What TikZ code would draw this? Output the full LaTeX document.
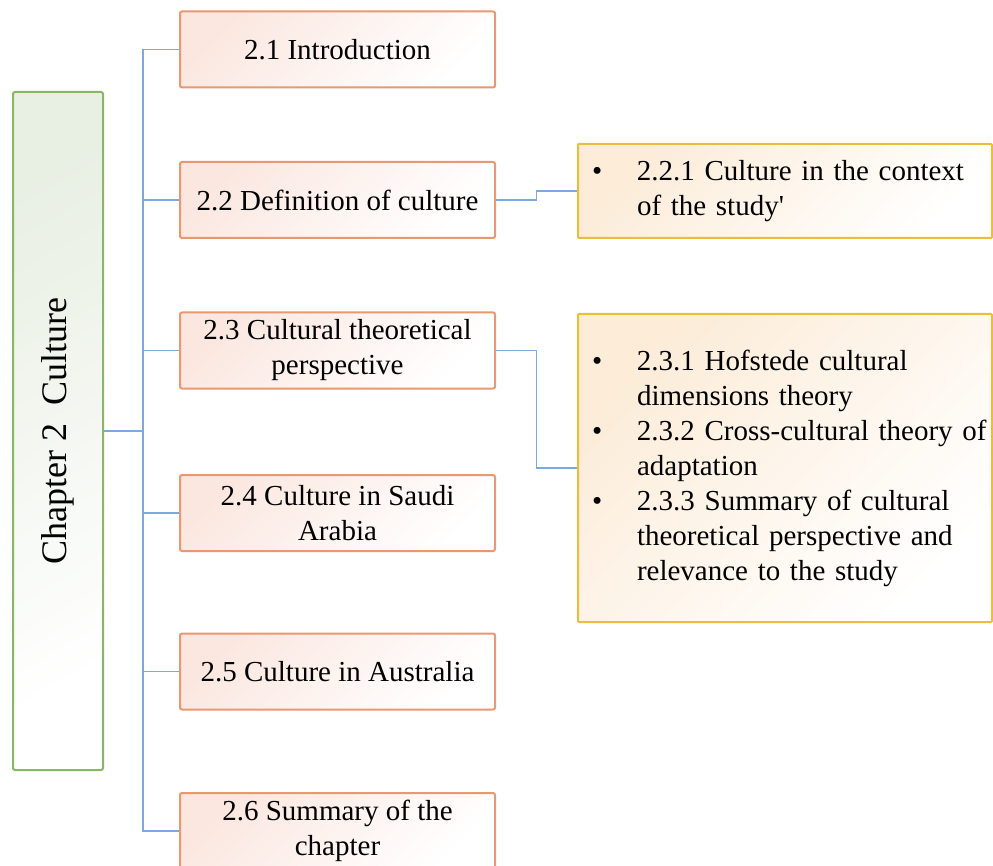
\documentclass[tikz,border=0pt]{standalone}
\usepackage{fontspec}
\usepackage{graphicx}
\setmainfont{Liberation Serif}[Ligatures=TeXOff]
\usetikzlibrary{calc}

\definecolor{secline}{RGB}{233,152,112}
\definecolor{secfill}{RGB}{251,231,224}
\definecolor{chline}{RGB}{138,184,98}
\definecolor{chfill}{RGB}{232,239,227}
\definecolor{subline}{RGB}{236,188,62}
\definecolor{subfill}{RGB}{252,236,216}
\definecolor{connblue}{RGB}{122,170,222}

\newcommand\boxfont{\fontsize{29}{35}\selectfont}
\newcommand\chapfont{\fontsize{36}{42}\selectfont}

\begin{document}
\begin{tikzpicture}[x=1pt,y=-1pt,
  secbox/.style={draw=secline, line width=2pt, rounded corners=2pt,
    top color=secfill, bottom color=white, shading angle=45,
    minimum width=315pt, minimum height=76pt, inner sep=0pt,
    align=center, font=\boxfont},
  chapbox/.style={draw=chline, line width=2pt, rounded corners=2pt,
    top color=chfill, bottom color=white, shading angle=30,
    minimum width=90pt, minimum height=678pt, inner sep=0pt, font=\chapfont},
  subbox/.style={draw=subline, line width=2pt, rounded corners=1pt,
    top color=subfill, bottom color=white, shading angle=45,
    minimum width=414pt, inner xsep=14pt, inner ysep=0pt,
    text width=386pt, font=\boxfont},
  conn/.style={draw=connblue, line width=1.8pt}]

\useasboundingbox (0,0) rectangle (993,866);
\clip (0,0) rectangle (993,866);

% chapter box
\node[chapbox] (ch) at (58,431) {\rotatebox{90}{Chapter 2\ \ Culture}};

% trunk position
\coordinate (tk) at (143,431);

% section boxes
\node[secbox] (s21) at (337.5,49.5) {2.1 Introduction};
\node[secbox] (s22) at (337.5,200) {2.2 Definition of culture};
\node[secbox] (s23) at (337.5,350.5) {2.3 Cultural theoretical\\perspective};
\node[secbox] (s24) at (337.5,513) {2.4 Culture in Saudi\\Arabia};
\node[secbox] (s25) at (337.5,671.5) {2.5 Culture in Australia};
\node[secbox] (s26) at (337.5,831) {2.6 Summary of the\\chapter};

% subsection boxes
\node[subbox, minimum height=94pt] (b22) at (785,191) {%
  \begin{tabular}{@{}p{45pt}@{}l@{}}
  \textbullet & 2.2.1 Culture in the context\\
              & of the study'
  \end{tabular}};
\node[subbox, minimum height=308pt] (b23) at (785,468) {%
  \begin{tabular}{@{}p{45pt}@{}l@{}}
  \textbullet & 2.3.1 Hofstede cultural\\
              & dimensions theory\\
  \textbullet & 2.3.2 Cross-cultural theory of\\
              & adaptation\\
  \textbullet & 2.3.3 Summary of cultural\\
              & theoretical perspective and\\
              & relevance to the study
  \end{tabular}};

% tree connectors
\draw[conn] (s21.west) -- (s21.west -| tk) -- (s26.west -| tk) -- (s26.west);
\draw[conn] (ch.east) -- (tk);
\foreach \s in {s22,s23,s24,s25}
  \draw[conn] (\s.west) -- (\s.west -| tk);

% elbow connectors to subsection boxes
\draw[conn] (s22.east) -| ($(s22.east)!0.5!(b22.west)$) |- (b22.west);
\draw[conn] (s23.east) -| ($(s23.east)!0.5!(b23.west)$) |- (b23.west);

\end{tikzpicture}
\end{document}
